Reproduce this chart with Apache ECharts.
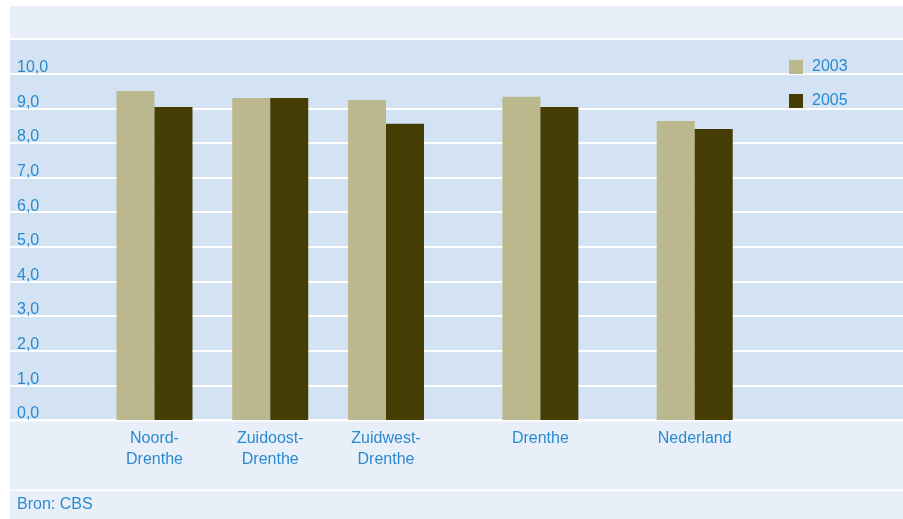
<!DOCTYPE html>
<html>
<head>
<meta charset="utf-8">
<script src="https://cdn.jsdelivr.net/npm/echarts@6/dist/echarts.min.js"></script>
<style>html,body{margin:0;padding:0;background:#fff;}#c{width:903px;height:519px;}</style>
</head>
<body>
<div id="c"></div>
<script>
// ---- data ----
const categories = ['Noord-\nDrenthe', 'Zuidoost-\nDrenthe', 'Zuidwest-\nDrenthe', 'Drenthe', 'Nederland'];
const values2003 = [9.50, 9.30, 9.24, 9.33, 8.63];
const values2005 = [9.04, 9.30, 8.55, 9.04, 8.40];
const yTickLabels = ['0,0','1,0','2,0','3,0','4,0','5,0','6,0','7,0','8,0','9,0','10,0'];
const seriesNames = ['2003', '2005'];
const sourceText = 'Bron: CBS';

// ---- layout (category slots along the axis, with spacing) ----
const slots = [1, 4, 7, 11, 15];
const nSlots = 17;
const axisCats = new Array(nSlots).fill('');
const d2003 = new Array(nSlots).fill('-');
const d2005 = new Array(nSlots).fill('-');
slots.forEach((s, i) => { axisCats[s] = categories[i]; d2003[s] = values2003[i]; d2005[s] = values2005[i]; });

const BLUE = '#2a8ad0';
const LIGHT = '#e8eff8';
const PLOT = '#d3e3f3';
const FONT = 'Liberation Sans';

const chart = echarts.init(document.getElementById('c'), null, {renderer: 'canvas'});
chart.setOption({
  animation: false,
  backgroundColor: '#ffffff',
  textStyle: {fontFamily: FONT},
  graphic: [
    {type: 'rect', z: -10, shape: {x: 10, y: 6, width: 893, height: 33}, style: {fill: LIGHT}},
    {type: 'rect', z: -10, shape: {x: 10, y: 421.5, width: 893, height: 68}, style: {fill: LIGHT}},
    {type: 'rect', z: -10, shape: {x: 10, y: 491, width: 893, height: 28}, style: {fill: LIGHT}},
    {type: 'text', left: 17, top: 497, style: {text: sourceText, fill: BLUE, fontSize: 16, fontFamily: FONT}}
  ],
  legend: {
    data: seriesNames,
    orient: 'vertical', left: 784, top: 54,
    itemWidth: 14, itemHeight: 14, itemGap: 18,
    icon: 'rect',
    textStyle: {color: BLUE, fontSize: 16, fontFamily: FONT, padding: [0, 0, 0, 4]}
  },
  grid: [
    {left: 10, right: 0, top: 39, bottom: 99, show: true, backgroundColor: PLOT, borderWidth: 0},
    {left: 96.6, right: 150.4, top: 39, bottom: 99}
  ],
  xAxis: [
    {gridIndex: 0, type: 'category', data: [''], show: false},
    {gridIndex: 1, type: 'category', data: axisCats,
     axisLine: {show: false}, axisTick: {show: false},
     axisLabel: {interval: 0, color: BLUE, fontSize: 16, lineHeight: 21, margin: 8, fontFamily: FONT}}
  ],
  yAxis: [
    {gridIndex: 0, type: 'value', min: 0, max: 11, interval: 1,
     axisLine: {show: false}, axisTick: {show: false},
     splitLine: {show: true, lineStyle: {color: '#ffffff', width: 2}},
     axisLabel: {inside: true, margin: 7, color: BLUE, fontSize: 16, fontFamily: FONT,
       verticalAlign: 'bottom', lineHeight: 12,
       formatter: function (v) { const i = Math.round(v); return i < yTickLabels.length ? yTickLabels[i] : ''; }}},
    {gridIndex: 1, type: 'value', min: 0, max: 11, interval: 1, show: false, splitLine: {show: false}}
  ],
  series: [
    {name: seriesNames[0], type: 'bar', xAxisIndex: 1, yAxisIndex: 1, data: d2003, clip: false,
     barWidth: 38, barGap: '0%', itemStyle: {color: '#bcb88e'}},
    {name: seriesNames[1], type: 'bar', xAxisIndex: 1, yAxisIndex: 1, data: d2005, clip: false,
     barWidth: 38, barGap: '0%', itemStyle: {color: '#453d03'}}
  ]
});
</script>
</body>
</html>
